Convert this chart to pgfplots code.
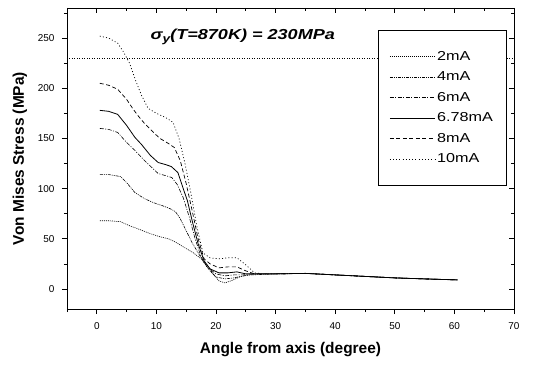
\documentclass[border=0pt]{standalone}
\usepackage{fontspec}
\setmainfont{Liberation Sans}
\newfontfamily\widefont[FakeStretch=1.25]{Liberation Sans}
\usepackage{pgfplots}
\pgfplotsset{compat=1.18}
\begin{document}
\begin{tikzpicture}
\path[use as bounding box] (-67bp,-56bp) rectangle (472bp,309bp);
\pgfplotsset{
  s2/.style={black, line width=0.6bp, dash pattern=on 1bp off 1bp},
  s4/.style={black, line width=0.6bp, dash pattern=on 3bp off 1bp on 1bp off 1bp on 1bp off 1bp},
  s6/.style={black, line width=0.6bp, dash pattern=on 4bp off 1.5bp on 1bp off 1.5bp},
  s678/.style={black, line width=0.8bp},
  s8/.style={black, line width=0.7bp, dash pattern=on 4bp off 2.5bp},
  s10/.style={black, line width=0.7bp, dash pattern=on 1bp off 2.2bp},
}
\begin{axis}[at={(0,0)}, anchor=south west, scale only axis,
  width=447bp, height=301bp,
  xmin=-5, xmax=70, ymin=-20, ymax=280,
  xtick={0,10,...,70}, minor xtick={-5,5,15,25,35,45,55,65},
  ytick={0,50,...,250}, minor ytick={25,75,125,175,225,275},
  tick align=outside, xtick pos=left, ytick pos=left,
  major tick length=5bp, minor tick length=3bp,
  tick style={black, line width=0.6bp},
  axis line style={line width=0.8bp},
  ticklabel style={font=\fontsize{10}{12}\selectfont},
  xticklabel style={yshift=-5bp},
  yticklabel style={xshift=-4bp},
  /pgf/number format/assume math mode=true,
  xlabel={Angle from axis (degree)},
  ylabel={Von Mises Stress (MPa)},
  label style={font=\fontsize{15.5}{18}\selectfont\bfseries},
  xlabel style={yshift=-6bp},
  ylabel style={yshift=4bp},
  legend style={at={(rel axis cs:0.696,0.927)}, anchor=north west,
    draw=black, line width=0.6bp, inner xsep=11bp, inner ysep=19bp,
    row sep=6bp,
    font=\widefont\fontsize{13}{14}\selectfont},
  legend cell align=left,
  legend image code/.code={\draw[#1] (0bp,0bp) -- (45bp,0bp);},
]
\addplot[black, line width=0.6bp, dash pattern=on 1bp off 1.5bp, forget plot] coordinates {(-5,230) (70,230)};

\addplot[s2] coordinates {(0.5,68)(2,68)(4,67)(5.5,63)(7.3,59)(9,55)(10.6,52)(12,50)(13.1,47)(14.5,42)(16.2,36)(17.5,30)(18.5,24)(19.5,15)(20.5,8)(21.5,6)(22.5,8)(24,12)(25.5,14)(27,15)(30,15)(35,15.5)(40,14)(45,12.5)(50,11)(55,10)(60.5,9)};
\addlegendentry{2mA}
\addplot[s4] coordinates {(0.5,114)(2,114)(4,112)(5,106)(6.4,96)(8,90)(9.5,86)(11,83)(12.3,80)(13.2,77)(14,70)(15,58)(16,46)(17,36)(18,26)(19,18)(20,12)(21.5,10)(23,11)(24.5,13)(26,14)(30,15)(35,15.5)(40,14)(45,12.5)(50,11)(55,10)(60.5,9)};
\addlegendentry{4mA}
\addplot[s6] coordinates {(0.5,160)(2,159)(3.5,156)(5,146)(6.4,138)(8,128)(10.3,115)(11.5,113)(12.6,111)(13.5,104)(14.5,91)(15.5,72)(16.5,50)(17.5,32)(18.5,22)(20,15)(21.5,13)(23,14)(24.5,14)(26,15)(30,15)(35,15.5)(40,14)(45,12.5)(50,11)(55,10)(60.5,9)};
\addlegendentry{6mA}
\addplot[s678] coordinates {(0.5,178)(2,177)(3.5,174)(5,163)(6.4,151)(7.5,144)(9,133)(10.3,126)(11.5,124)(12.5,122)(13.6,116)(14.5,100)(15.2,88)(16,68)(17,45)(18,28)(19,20)(20.5,16)(22,16)(23.5,17)(25,15)(27,15)(30,15)(35,15.5)(40,14)(45,12.5)(50,11)(55,10)(60.5,9)};
\addlegendentry{6.78mA}
\addplot[s8] coordinates {(0.5,205)(2,203)(3.5,199)(5,189)(6,180)(7,172)(8,165)(9.5,156)(10.6,150)(12,145)(13,141)(14,128)(15,105)(16,78)(17,50)(18,30)(19,25)(20.5,21)(22,22)(23.5,22)(25,18)(26.5,15)(28,15)(30,15)(35,15.5)(40,14)(45,12.5)(50,11)(55,10)(60.5,9)};
\addlegendentry{8mA}
\addplot[s10] coordinates {(0.5,252)(2,250)(3.5,245)(4.5,236)(5.5,225)(6.5,208)(7.5,193)(8.6,180)(10,175)(11.5,171)(12.8,166)(13.8,150)(14.8,125)(15.8,95)(16.8,62)(17.8,36)(19,31)(20.5,30)(22,31)(23.5,31)(25,24)(26.5,16)(28,15)(30,15)(35,15.5)(40,14)(45,12.5)(50,11)(55,10)(60.5,9)};
\addlegendentry{10mA}

\node[font=\widefont\fontsize{14.5}{16}\selectfont\bfseries\itshape, anchor=center]
  at (axis cs:24.5,251) {σ\raisebox{-0.45ex}{\fontsize{11}{12}\selectfont y}(T=870K) = 230MPa};
\end{axis}
\begin{axis}[at={(0,0)}, anchor=south west, scale only axis,
  width=447bp, height=301bp,
  xmin=-5, xmax=70, ymin=-20, ymax=280,
  xtick={0,10,...,70}, minor xtick={-5,5,15,25,35,45,55,65},
  ytick={0,50,...,250}, minor ytick={25,75,125,175,225,275},
  tick align=inside, xtick pos=right, ytick pos=right,
  major tick length=5bp, minor tick length=3bp,
  tick style={black, line width=0.6bp},
  axis line style={line width=0.8bp},
  xticklabels={}, yticklabels={},
]
\end{axis}
\end{tikzpicture}
\end{document}
